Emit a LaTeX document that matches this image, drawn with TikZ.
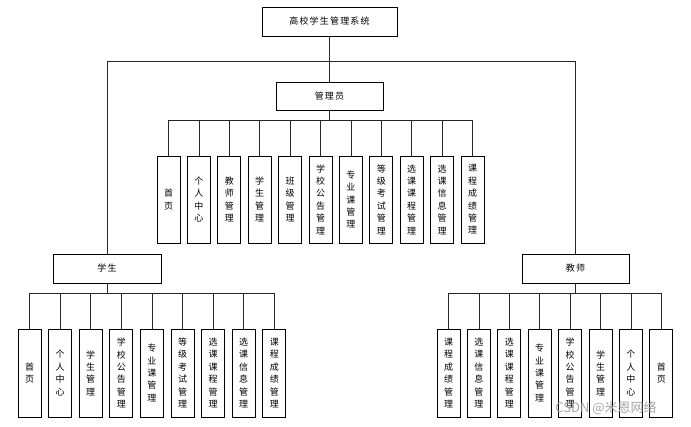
\documentclass[tikz,border=0pt]{standalone}
\usepackage{fontspec}
\setmainfont{Noto Sans CJK SC}
\tikzset{every picture/.style={line width=0.75pt}}
\tikzset{
  headbox/.style={draw, inner sep=0pt, font=\fontsize{9}{11}\selectfont\addfontfeature{LetterSpace=13}},
  leafbox/.style={draw, minimum width=23, minimum height=87, inner sep=0pt, align=center, font=\fontsize{9}{12.4}\selectfont},
  treeline/.style={draw=black!85, line width=0.8pt}
}

\begin{document}
\begin{tikzpicture}[x=1pt,y=1pt,yscale=-1,xscale=1]
\useasboundingbox (0,0) rectangle (691,427);

%Top box
\node [headbox, minimum width=135, minimum height=29] (root) at (329.5,21.5) {高校学生管理系统};
%Role boxes
\node [headbox, minimum width=107, minimum height=28] (admin) at (329.5,96) {管理员};
\node [headbox, minimum width=108, minimum height=29] (stu) at (107,268.5) {学生};
\node [headbox, minimum width=107, minimum height=29] (tea) at (575.5,268.5) {教师};

% Admin leaves
\node [leafbox] (a1) at (168.5,199.5) {首\\页};
\node [leafbox] (a2) at (198.9,199.5) {个\\人\\中\\心};
\node [leafbox] (a3) at (229.3,199.5) {教\\师\\管\\理};
\node [leafbox] (a4) at (259.7,199.5) {学\\生\\管\\理};
\node [leafbox] (a5) at (290.1,199.5) {班\\级\\管\\理};
\node [leafbox] (a6) at (320.5,199.5) {学\\校\\公\\告\\管\\理};
\node [leafbox] (a7) at (350.9,199.5) {专\\业\\课\\管\\理};
\node [leafbox] (a8) at (381.3,199.5) {等\\级\\考\\试\\管\\理};
\node [leafbox] (a9) at (411.7,199.5) {选\\课\\课\\程\\管\\理};
\node [leafbox] (a10) at (442.1,199.5) {选\\课\\信\\息\\管\\理};
\node [leafbox] (a11) at (472.5,199.5) {课\\程\\成\\绩\\管\\理};

% Student leaves
\node [leafbox, minimum height=88] (s1) at (29.5,373) {首\\页};
\node [leafbox, minimum height=88] (s2) at (60.1,373) {个\\人\\中\\心};
\node [leafbox, minimum height=88] (s3) at (90.7,373) {学\\生\\管\\理};
\node [leafbox, minimum height=88] (s4) at (121.3,373) {学\\校\\公\\告\\管\\理};
\node [leafbox, minimum height=88] (s5) at (151.9,373) {专\\业\\课\\管\\理};
\node [leafbox, minimum height=88] (s6) at (182.5,373) {等\\级\\考\\试\\管\\理};
\node [leafbox, minimum height=88] (s7) at (213.1,373) {选\\课\\课\\程\\管\\理};
\node [leafbox, minimum height=88] (s8) at (243.7,373) {选\\课\\信\\息\\管\\理};
\node [leafbox, minimum height=88] (s9) at (274.3,373) {课\\程\\成\\绩\\管\\理};

% Teacher leaves
\node [leafbox, minimum height=88] (t1) at (448.5,373) {课\\程\\成\\绩\\管\\理};
\node [leafbox, minimum height=88] (t2) at (478.9,373) {选\\课\\信\\息\\管\\理};
\node [leafbox, minimum height=88] (t3) at (509.3,373) {选\\课\\课\\程\\管\\理};
\node [leafbox, minimum height=88] (t4) at (539.7,373) {专\\业\\课\\管\\理};
\node [leafbox, minimum height=88] (t5) at (570.1,373) {学\\校\\公\\告\\管\\理};
\node [leafbox, minimum height=88] (t6) at (600.5,373) {学\\生\\管\\理};
\node [leafbox, minimum height=88] (t7) at (630.9,373) {个\\人\\中\\心};
\node [leafbox, minimum height=88] (t8) at (661.3,373) {首\\页};

%Root connectors
\draw [treeline] (root.south) -- (admin.north);
\draw [treeline] (root.south) -- ++(0,25) -| (stu.north);
\draw [treeline] (root.south) -- ++(0,25) -| (tea.north);

%Admin connectors
\draw [treeline] (admin.south) -- ++(0,10) -| (a1.north);
\draw [treeline] (admin.south) -- ++(0,10) -| (a2.north);
\draw [treeline] (admin.south) -- ++(0,10) -| (a3.north);
\draw [treeline] (admin.south) -- ++(0,10) -| (a4.north);
\draw [treeline] (admin.south) -- ++(0,10) -| (a5.north);
\draw [treeline] (admin.south) -- ++(0,10) -| (a6.north);
\draw [treeline] (admin.south) -- ++(0,10) -| (a7.north);
\draw [treeline] (admin.south) -- ++(0,10) -| (a8.north);
\draw [treeline] (admin.south) -- ++(0,10) -| (a9.north);
\draw [treeline] (admin.south) -- ++(0,10) -| (a10.north);
\draw [treeline] (admin.south) -- ++(0,10) -| (a11.north);

%Student connectors
\draw [treeline] (stu.south) -- ++(0,10) -| (s1.north);
\draw [treeline] (stu.south) -- ++(0,10) -| (s2.north);
\draw [treeline] (stu.south) -- ++(0,10) -| (s3.north);
\draw [treeline] (stu.south) -- ++(0,10) -| (s4.north);
\draw [treeline] (stu.south) -- ++(0,10) -| (s5.north);
\draw [treeline] (stu.south) -- ++(0,10) -| (s6.north);
\draw [treeline] (stu.south) -- ++(0,10) -| (s7.north);
\draw [treeline] (stu.south) -- ++(0,10) -| (s8.north);
\draw [treeline] (stu.south) -- ++(0,10) -| (s9.north);

%Teacher connectors
\draw [treeline] (tea.south) -- ++(0,10) -| (t1.north);
\draw [treeline] (tea.south) -- ++(0,10) -| (t2.north);
\draw [treeline] (tea.south) -- ++(0,10) -| (t3.north);
\draw [treeline] (tea.south) -- ++(0,10) -| (t4.north);
\draw [treeline] (tea.south) -- ++(0,10) -| (t5.north);
\draw [treeline] (tea.south) -- ++(0,10) -| (t6.north);
\draw [treeline] (tea.south) -- ++(0,10) -| (t7.north);
\draw [treeline] (tea.south) -- ++(0,10) -| (t8.north);

% Text Node
\node [inner sep=0.75pt, text=black!35, font=\fontsize{13}{15}\selectfont] (mark) at (606,408) {CSDN @米恩网络};

\end{tikzpicture}
\end{document}
